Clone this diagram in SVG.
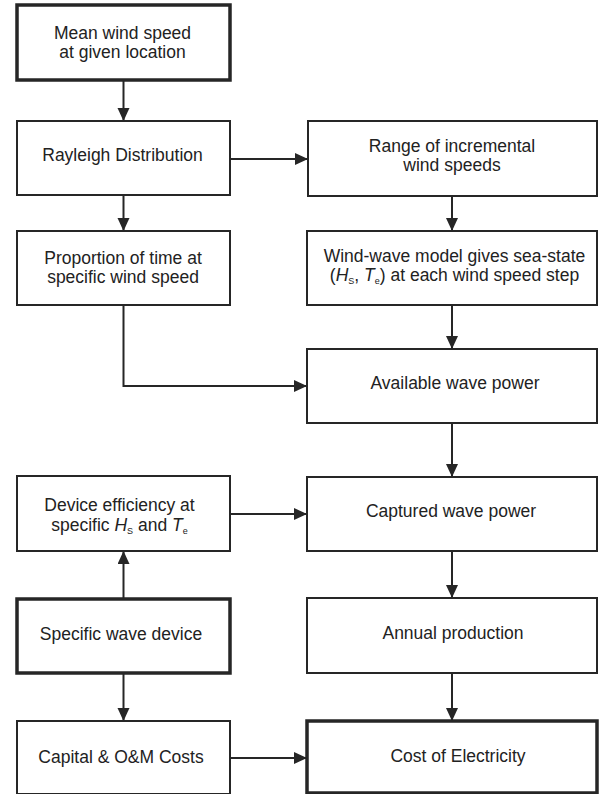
<svg xmlns="http://www.w3.org/2000/svg" width="608" height="794" viewBox="0 0 608 794">
<defs>
<style>
.box{fill:#fff;stroke:#262626;stroke-width:2}
.thick{stroke-width:3.5}
.t{font-family:"Liberation Sans",Arial,sans-serif;font-size:17.5px;fill:#222;text-anchor:middle}
.sub{font-size:9px}
.it{font-style:italic}
.c{fill:none;stroke:#262626;stroke-width:2}
</style>
<marker id="ah" markerUnits="userSpaceOnUse" markerWidth="14" markerHeight="13" refX="13" refY="6" orient="auto">
<path d="M0,0 L13,6 L0,12 z" fill="#262626"/>
</marker>
</defs>
<rect width="608" height="794" fill="#fff"/>

<g id="connectors">
<path class="c" d="M123.5,80 V121" marker-end="url(#ah)"/>
<path class="c" d="M230,159 H308" marker-end="url(#ah)"/>
<path class="c" d="M123.5,195 V231" marker-end="url(#ah)"/>
<path class="c" d="M452,196 V231" marker-end="url(#ah)"/>
<path class="c" d="M123.5,305 V386 H307" marker-end="url(#ah)"/>
<path class="c" d="M452,305 V349" marker-end="url(#ah)"/>
<path class="c" d="M452,423 V477" marker-end="url(#ah)"/>
<path class="c" d="M230,514 H307" marker-end="url(#ah)"/>
<path class="c" d="M123.5,599 V551" marker-end="url(#ah)"/>
<path class="c" d="M452,551 V598" marker-end="url(#ah)"/>
<path class="c" d="M123.5,673 V721" marker-end="url(#ah)"/>
<path class="c" d="M452,673 V721" marker-end="url(#ah)"/>
<path class="c" d="M230,758 H307" marker-end="url(#ah)"/>
</g>

<g id="mean-wind">
<rect class="box thick" x="17" y="5" width="213" height="75"/>
<text class="t" x="122.5" y="39">Mean wind speed</text>
<text class="t" x="122.5" y="58">at given location</text>
</g>

<g id="rayleigh">
<rect class="box" x="17" y="121" width="213" height="74"/>
<text class="t" x="122.5" y="161">Rayleigh Distribution</text>
</g>

<g id="range">
<rect class="box" x="308" y="121" width="289" height="75"/>
<text class="t" x="452" y="152">Range of incremental</text>
<text class="t" x="452" y="171">wind speeds</text>
</g>

<g id="proportion">
<rect class="box" x="17" y="231" width="213" height="74"/>
<text class="t" x="123" y="264">Proportion of time at</text>
<text class="t" x="123" y="283">specific wind speed</text>
</g>

<g id="wind-wave">
<rect class="box" x="307" y="231" width="290" height="74"/>
<text class="t" x="454.5" y="262">Wind-wave model gives sea-state</text>
<text class="t" x="454.5" y="281">(<tspan class="it">H</tspan><tspan class="sub" dy="3">S</tspan><tspan dy="-3">, </tspan><tspan class="it">T</tspan><tspan class="sub" dy="3">e</tspan><tspan dy="-3">) at each wind speed step</tspan></text>
</g>

<g id="available">
<rect class="box" x="307" y="349" width="290" height="74"/>
<text class="t" x="455" y="389">Available wave power</text>
</g>

<g id="device-efficiency">
<rect class="box" x="17" y="476" width="213" height="75"/>
<text class="t" x="119.5" y="511">Device efficiency at</text>
<text class="t" x="119.5" y="531">specific <tspan class="it">H</tspan><tspan class="sub" dy="3">S</tspan><tspan dy="-3"> and </tspan><tspan class="it">T</tspan><tspan class="sub" dy="3">e</tspan></text>
</g>

<g id="captured">
<rect class="box" x="307" y="477" width="290" height="74"/>
<text class="t" x="451" y="517">Captured wave power</text>
</g>

<g id="specific-device">
<rect class="box thick" x="17" y="599" width="213" height="74"/>
<text class="t" x="121" y="640">Specific wave device</text>
</g>

<g id="annual">
<rect class="box" x="307" y="598" width="290" height="75"/>
<text class="t" x="453" y="639">Annual production</text>
</g>

<g id="capital">
<rect class="box" x="17" y="721" width="213" height="73"/>
<text class="t" x="121" y="763">Capital &amp; O&amp;M Costs</text>
</g>

<g id="cost">
<rect class="box thick" x="307" y="721" width="290" height="72"/>
<text class="t" x="458" y="762">Cost of Electricity</text>
</g>
</svg>
